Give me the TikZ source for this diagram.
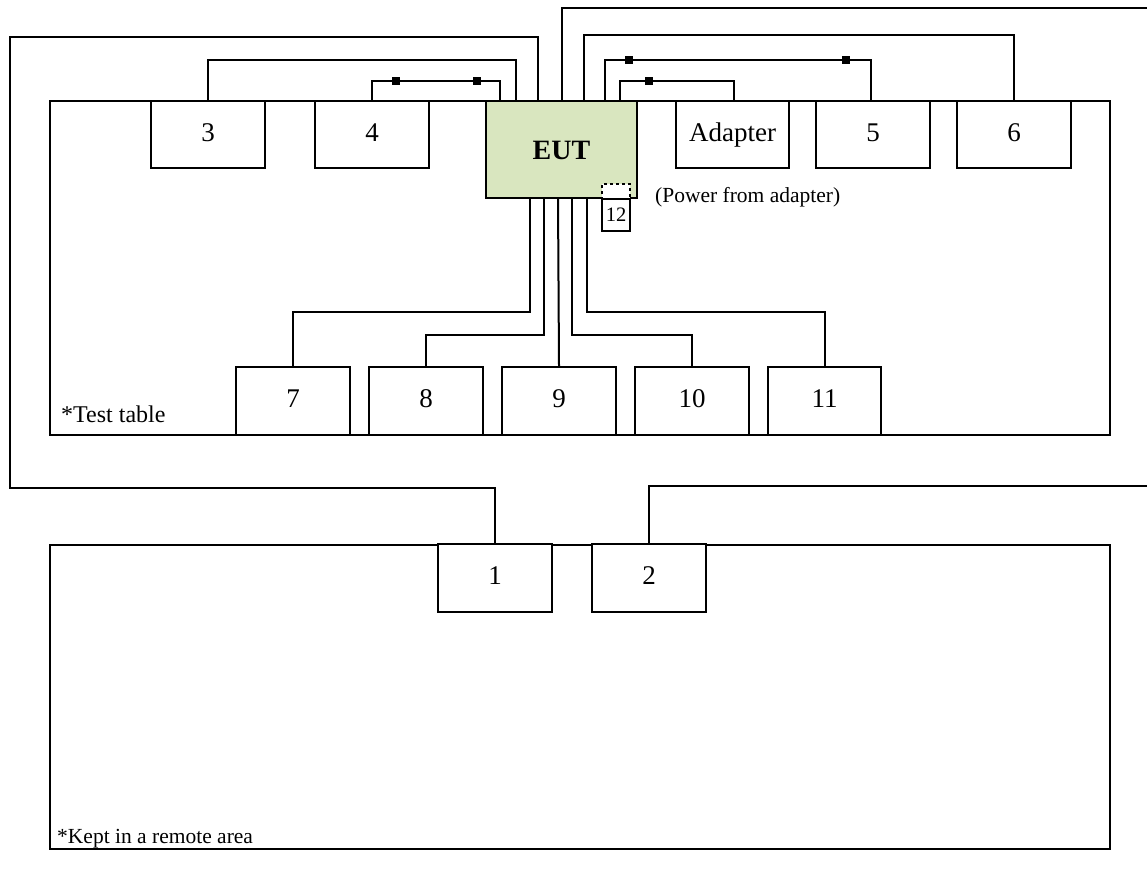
\documentclass[tikz,border=0pt]{standalone}
\usepackage{fontspec}
\setmainfont{Liberation Serif}
\begin{document}
\begin{tikzpicture}[x=1pt,y=-1pt,
  wire/.style={line width=2pt},
  frame/.style={draw,line width=2pt},
  unit/.style={draw,line width=2pt,fill=white,inner sep=0pt,minimum width=114pt,minimum height=67pt,text height=19pt,text depth=6pt,font=\fontsize{27}{30}\selectfont},
  lowunit/.style={unit,minimum height=68pt},
  ferrite/.style={fill=black,minimum size=8pt,inner sep=0pt},
  note/.style={inner sep=0pt,font=\fontsize{21.5}{24}\selectfont}]
\useasboundingbox (0,0) rectangle (1147,878);
% tables
\draw[frame] (50,101) rectangle (1110,435);
\draw[frame] (50,545) rectangle (1110,849);
\node[note,anchor=base west,font=\fontsize{24}{26}\selectfont] (tt) at (61,422) {*Test table};
\node[note,anchor=base west] (ra) at (57,843) {*Kept in a remote area};
% units
\node[unit,fill=green!20!olive!25,minimum width=151pt,minimum height=97pt,text height=19pt,text depth=0pt,font=\fontsize{28}{30}\selectfont\bfseries] (eut) at (561.5,149.5) {EUT};
\node[unit] (b3) at (208,134.5) {3};
\node[unit] (b4) at (372,134.5) {4};
\node[unit,minimum width=113pt] (ad) at (732.5,134.5) {Adapter};
\node[unit] (b5) at (873,134.5) {5};
\node[unit] (b6) at (1014,134.5) {6};
\node[lowunit] (b7) at (293,401) {7};
\node[lowunit] (b8) at (426,401) {8};
\node[lowunit] (b9) at (559,401) {9};
\node[lowunit] (b10) at (692,401) {10};
\node[lowunit,minimum width=113pt] (b11) at (824.5,401) {11};
\node[lowunit] (b1) at (495,578) {1};
\node[lowunit] (b2) at (649,578) {2};
% port 12
\node[draw,line width=1.6pt,fill=white,dashed,minimum width=28pt,minimum height=15pt,inner sep=0pt] (p12d) at (616,191.5) {};
\node[draw,line width=1.6pt,fill=white,minimum width=28pt,minimum height=32pt,inner sep=0pt,font=\fontsize{20.5}{22}\selectfont] (b12) at (616,215) {12};
\node[note,anchor=base west] (pwr) at (655,202) {(Power from adapter)};
% port coordinates on EUT
\coordinate (tA) at ([xshift=53pt]eut.north west);
\coordinate (tB) at ([xshift=31pt]eut.north west);
\coordinate (tC) at ([xshift=14.7pt]eut.north west);
\coordinate (tD) at ([xshift=77pt]eut.north west);
\coordinate (tE) at ([xshift=98.5pt]eut.north west);
\coordinate (tF) at ([xshift=119.8pt]eut.north west);
\coordinate (tG) at ([xshift=134.5pt]eut.north west);
\coordinate (u1) at ([xshift=44.7pt]eut.south west);
\coordinate (u2) at ([xshift=59pt]eut.south west);
\coordinate (u3) at ([xshift=73pt]eut.south west);
\coordinate (u4) at ([xshift=87.3pt]eut.south west);
\coordinate (u5) at ([xshift=102.3pt]eut.south west);
\coordinate (offA) at (1147,8);
\coordinate (offB) at (1147,486);
% wires above
\draw[wire] (tA) |- (9.5,37) -- (9.5,488) -| (b1.north);
\draw[wire] (tB) |- (208,60) -- (b3.north);
\draw[wire] (tC) |- (372,81) -- (b4.north);
\draw[wire] (tD) |- (offA);
\draw[wire] (tE) |- (1014,35) -- (b6.north);
\draw[wire] (tF) |- (871,59.5) -- (871,101);
\draw[wire] (tG) |- (733.6,81) -- (733.6,101);
\draw[wire] (b2.north) |- (offB);
% wires below
\draw[wire] (u1) |- (293,311.7) -- (b7.north);
\draw[wire] (u2) |- (426,335) -- (b8.north);
\draw[wire] (u3) -- (b9.north);
\draw[wire] (u4) |- (692,335) -- (b10.north);
\draw[wire] (u5) |- (824.5,311.7) -- (b11.north);
% ferrite cores
\node[ferrite] (f1) at (396,81) {};
\node[ferrite] (f2) at (477,81) {};
\node[ferrite] (f3) at (628.7,59.5) {};
\node[ferrite] (f4) at (845.8,59.5) {};
\node[ferrite] (f5) at (649,81) {};
\end{tikzpicture}
\end{document}
